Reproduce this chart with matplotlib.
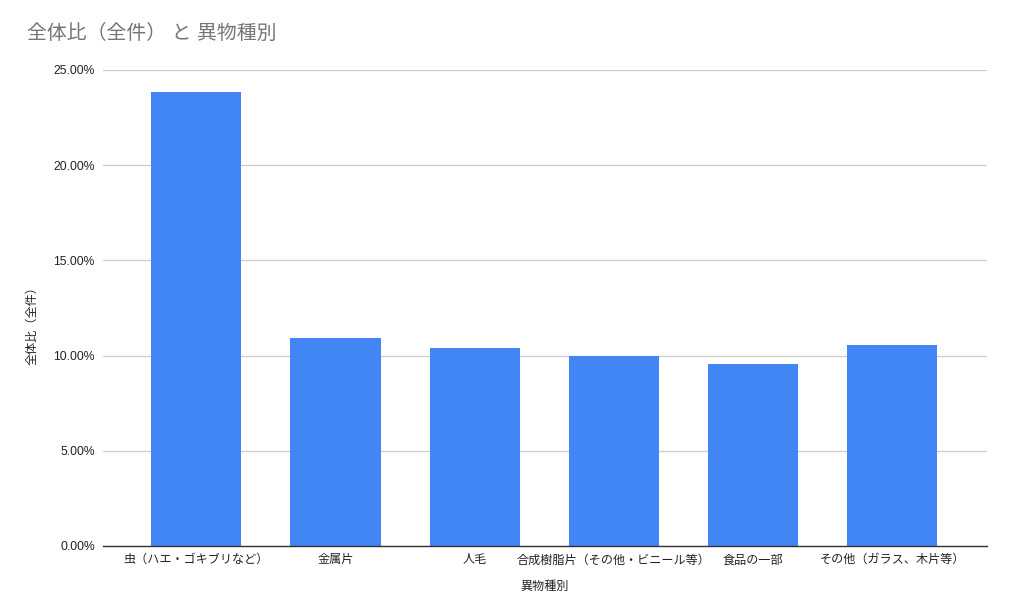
import matplotlib
matplotlib.use("Agg")
import matplotlib.pyplot as plt
from matplotlib.ticker import FuncFormatter

plt.rcParams['font.family'] = ['Liberation Sans', 'Noto Sans CJK JP', 'DejaVu Sans']

# data
categories = ['虫（ハエ・ゴキブリなど）', '金属片', '人毛',
              '合成樹脂片（その他・ビニール等）', '食品の一部', 'その他（ガラス、木片等）']
ratios = [23.85, 10.95, 10.38, 10.0, 9.58, 10.58]
y_ticks = [0, 5, 10, 15, 20, 25]

W, H = 1009, 609
fig = plt.figure(figsize=(W / 100, H / 100), dpi=100)
ax = fig.add_axes([103 / W, 1 - 546 / H, (987 - 103) / W, (546 - 70) / H])

x = list(range(len(categories)))
ax.bar(x, ratios, width=0.647, color='#4285F4', zorder=3)

ax.set_xlim(-0.67, 5.68)
ax.set_ylim(0, 25)
ax.set_yticks(y_ticks)
ax.yaxis.set_major_formatter(FuncFormatter(lambda v, p: f'{v:.2f}%'))
ax.set_xticks(x)
ax.set_xticklabels(categories, fontsize=8.7, color='#222222')
ax.tick_params(axis='y', length=0, pad=6, labelsize=8.7, labelcolor='#222222')
ax.tick_params(axis='x', length=0, pad=6)
ax.grid(axis='y', color='#cccccc', linewidth=0.9, zorder=0)

for s in ['top', 'right', 'left']:
    ax.spines[s].set_visible(False)
ax.spines['bottom'].set_color('#333333')
ax.spines['bottom'].set_linewidth(1.0)
ax.spines['bottom'].set_zorder(4)

fig.text(27 / W, 1 - 33 / H, '全体比（全件） と 異物種別', fontsize=14.3,
         color='#757575', ha='left', va='center')
fig.text(32 / W, 1 - 323 / H, '全体比（全件）', fontsize=8.7, color='#222222',
         rotation=90, ha='center', va='center')
fig.text(545 / W, 1 - 587 / H, '異物種別', fontsize=8.7, color='#222222',
         ha='center', va='center')

fig.savefig('out.png', dpi=100)
